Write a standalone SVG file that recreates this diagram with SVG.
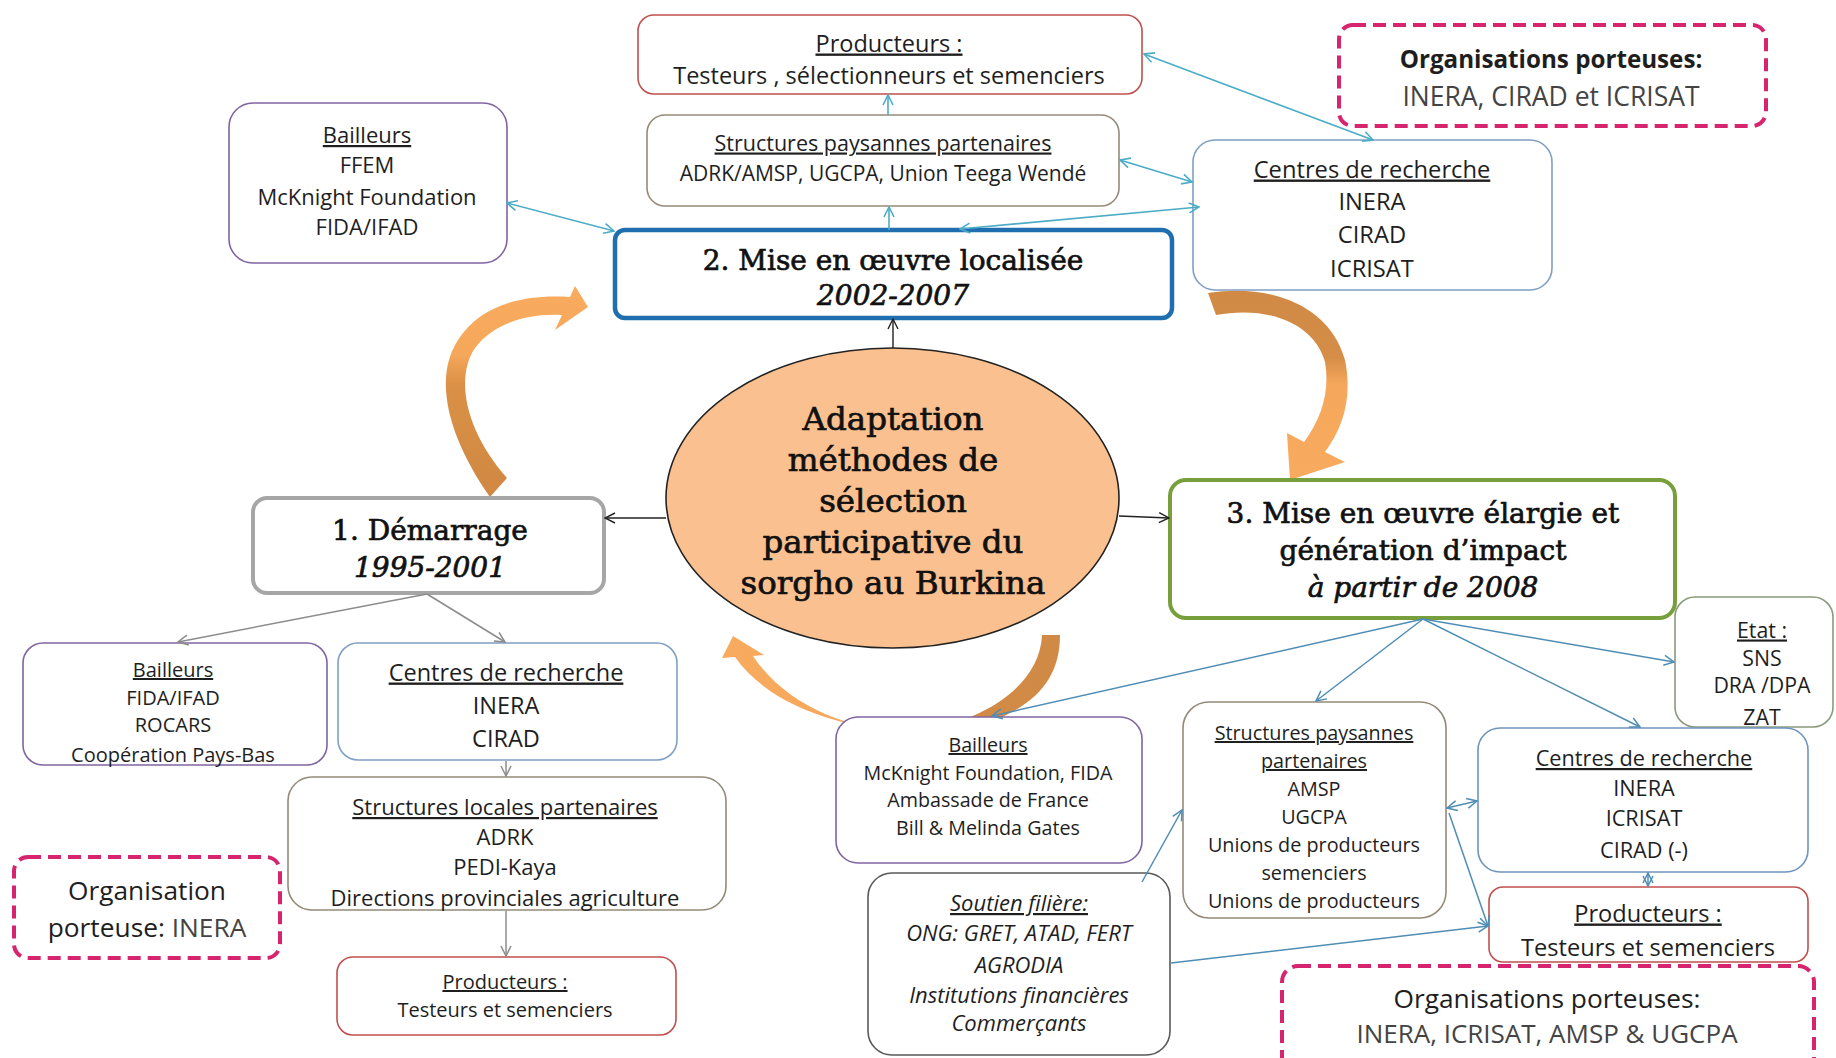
<svg xmlns="http://www.w3.org/2000/svg" width="1836" height="1058" viewBox="0 0 1836 1058">
<defs>
<style>
.box{fill:#fff;stroke-width:1.6}
.red{stroke:#c0504d}
.brn{stroke:#948a7a}
.pur{stroke:#8064a2}
.blu{stroke:#7f9fc4}
.dash{fill:#fff;stroke:#d6246e;stroke-width:4;stroke-dasharray:13 7}
.t{font-family:"Open Sans","Liberation Sans",sans-serif;fill:#1e1e1e;text-anchor:middle}
.s{font-family:"DejaVu Serif","Liberation Serif",serif;fill:#111;stroke:#111;stroke-width:0.7;text-anchor:middle}
.u{text-decoration:underline}
.i{font-style:italic}
.lt{fill:#444}
.c1{fill:none;stroke:#4bacc6;stroke-width:1.6}
.c2{fill:none;stroke:#4f8db5;stroke-width:1.5}
.c3{fill:none;stroke:#8c8c8c;stroke-width:1.5}
.c4{fill:none;stroke:#222;stroke-width:1.4}
</style>
<marker id="mb1" viewBox="0 0 12 12" refX="11" refY="6" markerWidth="12" markerHeight="12" markerUnits="userSpaceOnUse" orient="auto-start-reverse"><path d="M1,1 L11,6 L1,11" fill="none" stroke="#4bacc6" stroke-width="1.6"/></marker>
<marker id="mb2" viewBox="0 0 12 12" refX="11" refY="6" markerWidth="12" markerHeight="12" markerUnits="userSpaceOnUse" orient="auto-start-reverse"><path d="M1,1 L11,6 L1,11" fill="none" stroke="#4f8db5" stroke-width="1.5"/></marker>
<marker id="mg" viewBox="0 0 12 12" refX="11" refY="6" markerWidth="12" markerHeight="12" markerUnits="userSpaceOnUse" orient="auto-start-reverse"><path d="M1,1 L11,6 L1,11" fill="none" stroke="#8c8c8c" stroke-width="1.5"/></marker>
<marker id="mk" viewBox="0 0 12 12" refX="11" refY="6" markerWidth="12" markerHeight="12" markerUnits="userSpaceOnUse" orient="auto-start-reverse"><path d="M1,1 L11,6 L1,11" fill="none" stroke="#222" stroke-width="1.4"/></marker>
<linearGradient id="gl" gradientUnits="userSpaceOnUse" x1="0" y1="295" x2="0" y2="495"><stop offset="0" stop-color="#f8ab5e"/><stop offset="0.3" stop-color="#f5a75a"/><stop offset="0.45" stop-color="#da9046"/><stop offset="1" stop-color="#d08842"/></linearGradient>
<linearGradient id="gr" gradientUnits="userSpaceOnUse" x1="0" y1="292" x2="0" y2="478"><stop offset="0" stop-color="#d08a45"/><stop offset="0.35" stop-color="#d58d47"/><stop offset="0.5" stop-color="#f5a85b"/><stop offset="1" stop-color="#f8ab5e"/></linearGradient>
<linearGradient id="gb" gradientUnits="userSpaceOnUse" x1="1060" y1="0" x2="725" y2="0"><stop offset="0" stop-color="#d08a45"/><stop offset="0.42" stop-color="#d48c46"/><stop offset="0.6" stop-color="#f5a75b"/><stop offset="1" stop-color="#f8ab5e"/></linearGradient>
</defs>
<rect width="1836" height="1058" fill="#fff"/>

<g id="cycle-arrows">
<path d="M490,497 C450,440 432,380 458,340 C480,306 520,294 570,297 L575,286 L588,307 L555,330 L562,315 C525,313 492,325 475,348 C455,378 465,430 507,478 Z" fill="url(#gl)"/>
<path d="M1208,293 C1270,283 1330,305 1345,360 C1352,395 1345,425 1325,452 L1345,462 L1290,480 L1287,433 L1304,442 C1322,418 1330,390 1325,362 C1315,325 1270,305 1216,315 Z" fill="url(#gr)"/>
<path d="M1060,635 C1060,675 1040,700 1000,718 C940,745 790,735 735,657 L722,658 L733,636 L764,655 L753,656 C790,712 870,740 935,728 C985,718 1040,685 1042,635 Z" fill="url(#gb)"/>
</g>

<g id="n-prod-top"><rect class="box red" x="638" y="15" width="504" height="79" rx="16"/>
<text class="t u" x="889" y="51.5" font-size="23.5">Producteurs :</text>
<text class="t" x="889" y="83.5" font-size="23.5">Testeurs , sélectionneurs et semenciers</text></g>

<g id="n-struct-top"><rect class="box brn" x="647" y="115" width="472" height="91" rx="18"/>
<text class="t u" x="883" y="150.5" font-size="21.5">Structures paysannes partenaires</text>
<text class="t" x="883" y="180.5" font-size="21">ADRK/AMSP, UGCPA, Union Teega Wendé</text></g>

<g id="n-bailleurs-top"><rect class="box pur" x="229" y="103" width="278" height="160" rx="24"/>
<text class="t u" x="367" y="143" font-size="22">Bailleurs</text>
<text class="t" x="367" y="173" font-size="22">FFEM</text>
<text class="t" x="367" y="205" font-size="22">McKnight Foundation</text>
<text class="t" x="367" y="235" font-size="22">FIDA/IFAD</text></g>

<g id="n-phase2"><rect x="615" y="230" width="557" height="88" rx="10" fill="#fff" stroke="#1f6fb0" stroke-width="4.5"/>
<text class="s" x="893" y="270" font-size="28">2. Mise en œuvre localisée</text>
<text class="s i" x="893" y="305" font-size="28" stroke-width="0.3">2002-2007</text></g>

<g id="n-centres-top"><rect class="box blu" x="1193" y="140" width="359" height="150" rx="22"/>
<text class="t u" x="1372" y="177.5" font-size="23.7">Centres de recherche</text>
<text class="t" x="1372" y="209.5" font-size="23.7">INERA</text>
<text class="t" x="1372" y="242.5" font-size="23.7">CIRAD</text>
<text class="t" x="1372" y="276.5" font-size="23.7">ICRISAT</text></g>

<g id="n-org-top"><rect class="dash" x="1339" y="25" width="427" height="101" rx="14"/>
<text class="t" x="1551" y="67.5" font-size="24.2" font-weight="bold" fill="#111">Organisations porteuses:</text>
<text class="t lt" x="1551" y="105.5" font-size="26.5">INERA, CIRAD et ICRISAT</text></g>

<g id="n-center"><ellipse cx="892.5" cy="498" rx="226.5" ry="150" fill="#fac08f" stroke="#222" stroke-width="1.6"/>
<text class="s" x="893" y="430" font-size="32.5" stroke-width="0.9">Adaptation</text>
<text class="s" x="893" y="471" font-size="32.5" stroke-width="0.9">méthodes de</text>
<text class="s" x="893" y="512" font-size="32.5" stroke-width="0.9">sélection</text>
<text class="s" x="893" y="553" font-size="32.5" stroke-width="0.9">participative du</text>
<text class="s" x="893" y="594" font-size="32.5" stroke-width="0.9">sorgho au Burkina</text></g>

<g id="n-phase1"><rect x="253" y="498" width="351" height="95" rx="14" fill="#fff" stroke="#a6a6a6" stroke-width="4"/>
<text class="s" x="430" y="540" font-size="28">1. Démarrage</text>
<text class="s i" x="430" y="577" font-size="28" stroke-width="0.3">1995-2001</text></g>

<g id="n-phase3"><rect x="1170" y="480" width="505" height="138" rx="16" fill="#fff" stroke="#77a03c" stroke-width="4"/>
<text class="s" x="1423" y="523" font-size="28">3. Mise en œuvre élargie et</text>
<text class="s" x="1423" y="560" font-size="28">génération d’impact</text>
<text class="s i" x="1423" y="597" font-size="28" stroke-width="0.3">à partir de 2008</text></g>

<g id="n-bailleurs-left"><rect class="box pur" x="23" y="643" width="304" height="122" rx="20"/>
<text class="t u" x="173" y="677" font-size="20">Bailleurs</text>
<text class="t" x="173" y="705" font-size="20">FIDA/IFAD</text>
<text class="t" x="173" y="732" font-size="20">ROCARS</text>
<text class="t" x="173" y="762" font-size="20">Coopération Pays-Bas</text></g>

<g id="n-centres-left"><rect class="box blu" x="338" y="643" width="339" height="117" rx="20"/>
<text class="t u" x="506" y="680.5" font-size="23.5">Centres de recherche</text>
<text class="t" x="506" y="713.5" font-size="23.5">INERA</text>
<text class="t" x="506" y="746.5" font-size="23.5">CIRAD</text></g>

<g id="n-struct-locales"><rect class="box brn" x="288" y="777" width="438" height="133" rx="24"/>
<text class="t u" x="505" y="815" font-size="22">Structures locales partenaires</text>
<text class="t" x="505" y="845" font-size="22">ADRK</text>
<text class="t" x="505" y="875" font-size="22">PEDI-Kaya</text>
<text class="t" x="505" y="906" font-size="22">Directions provinciales agriculture</text></g>

<g id="n-org-left"><rect class="dash" x="14" y="857" width="266" height="101" rx="14"/>
<text class="t" x="147" y="899.5" font-size="26.3" fill="#111">Organisation</text>
<text class="t" x="147" y="936.5" font-size="26.3" fill="#111">porteuse: <tspan class="lt">INERA</tspan></text></g>

<g id="n-prod-left"><rect class="box red" x="337" y="957" width="339" height="78" rx="16"/>
<text class="t u" x="505" y="989" font-size="20">Producteurs :</text>
<text class="t" x="505" y="1017" font-size="20">Testeurs et semenciers</text></g>

<g id="n-bailleurs-mid"><rect class="box pur" x="836" y="717" width="306" height="146" rx="22"/>
<text class="t u" x="988" y="752" font-size="19.7">Bailleurs</text>
<text class="t" x="988" y="780" font-size="19.7">McKnight Foundation, FIDA</text>
<text class="t" x="988" y="807" font-size="19.7">Ambassade de France</text>
<text class="t" x="988" y="835" font-size="19.7">Bill &amp; Melinda Gates</text></g>

<g id="n-soutien"><rect class="box" stroke="#595959" x="868" y="873" width="302" height="182" rx="24"/>
<text class="t i u" x="1019" y="911" font-size="22">Soutien filière:</text>
<text class="t i" x="1019" y="941" font-size="22">ONG: GRET, ATAD, FERT</text>
<text class="t i" x="1019" y="973" font-size="22">AGRODIA</text>
<text class="t i" x="1019" y="1003" font-size="22">Institutions financières</text>
<text class="t i" x="1019" y="1031" font-size="22">Commerçants</text></g>

<g id="n-struct-bottom"><rect class="box brn" x="1183" y="702" width="263" height="216" rx="26"/>
<text class="t u" x="1314" y="740" font-size="19.8">Structures paysannes</text>
<text class="t u" x="1314" y="768" font-size="19.8">partenaires</text>
<text class="t" x="1314" y="796" font-size="19.8">AMSP</text>
<text class="t" x="1314" y="824" font-size="19.8">UGCPA</text>
<text class="t" x="1314" y="852" font-size="19.8">Unions de producteurs</text>
<text class="t" x="1314" y="880" font-size="19.8">semenciers</text>
<text class="t" x="1314" y="908" font-size="19.8">Unions de producteurs</text></g>

<g id="n-etat"><rect class="box" stroke="#8a9a7a" x="1675" y="597" width="158" height="130" rx="20"/>
<text class="t u" x="1762" y="637.5" font-size="21.3">Etat :</text>
<text class="t" x="1762" y="665.5" font-size="21.3">SNS</text>
<text class="t" x="1762" y="692.5" font-size="21.3">DRA /DPA</text>
<text class="t" x="1762" y="724.5" font-size="21.3">ZAT</text></g>

<g id="n-org-bottom"><rect class="dash" x="1282" y="966" width="532" height="115" rx="16"/>
<text class="t" x="1547" y="1007.5" font-size="26.3" fill="#111">Organisations porteuses:</text>
<text class="t lt" x="1547" y="1042.5" font-size="26">INERA, ICRISAT, AMSP &amp; UGCPA</text></g>

<g id="n-centres-bottom"><rect class="box" stroke="#6f94bd" x="1478" y="728" width="330" height="144" rx="22"/>
<text class="t u" x="1644" y="766" font-size="21.7">Centres de recherche</text>
<text class="t" x="1644" y="796" font-size="21.7">INERA</text>
<text class="t" x="1644" y="826" font-size="21.7">ICRISAT</text>
<text class="t" x="1644" y="858" font-size="21.7">CIRAD (-)</text></g>

<g id="n-prod-bottom"><rect class="box red" x="1489" y="887" width="319" height="75" rx="14"/>
<text class="t u" x="1648" y="921.5" font-size="23.6">Producteurs :</text>
<text class="t" x="1648" y="955.5" font-size="23.6">Testeurs et semenciers</text></g>

<g id="connectors">
<line class="c1" x1="507" y1="203" x2="614" y2="231" marker-start="url(#mb1)" marker-end="url(#mb1)"/>
<line class="c1" x1="888" y1="115" x2="888" y2="95" marker-end="url(#mb1)"/>
<line class="c1" x1="889" y1="230" x2="889" y2="207" marker-end="url(#mb1)"/>
<line class="c1" x1="1120" y1="160" x2="1192" y2="182" marker-start="url(#mb1)" marker-end="url(#mb1)"/>
<line class="c1" x1="1199" y1="207" x2="960" y2="229" marker-start="url(#mb1)" marker-end="url(#mb1)"/>
<line class="c1" x1="1373" y1="140" x2="1144" y2="54" marker-start="url(#mb1)" marker-end="url(#mb1)"/>
<line class="c4" x1="893" y1="348" x2="893" y2="319" marker-end="url(#mk)"/>
<line class="c4" x1="666" y1="518" x2="605" y2="518" marker-end="url(#mk)"/>
<line class="c4" x1="1119" y1="516" x2="1169" y2="518" marker-end="url(#mk)"/>
<line class="c3" x1="427" y1="594" x2="178" y2="642" marker-end="url(#mg)"/>
<line class="c3" x1="427" y1="594" x2="505" y2="642" marker-end="url(#mg)"/>
<line class="c3" x1="506" y1="761" x2="506" y2="776" marker-end="url(#mg)"/>
<line class="c3" x1="506" y1="911" x2="506" y2="956" marker-end="url(#mg)"/>
<line class="c2" x1="1423" y1="619" x2="992" y2="716" marker-end="url(#mb2)"/>
<line class="c2" x1="1423" y1="619" x2="1316" y2="701" marker-end="url(#mb2)"/>
<line class="c2" x1="1423" y1="619" x2="1640" y2="727" marker-end="url(#mb2)"/>
<line class="c2" x1="1423" y1="619" x2="1674" y2="662" marker-end="url(#mb2)"/>
<line class="c2" x1="1142" y1="882" x2="1182" y2="810" marker-end="url(#mb2)"/>
<line class="c2" x1="1171" y1="963" x2="1488" y2="926" marker-end="url(#mb2)"/>
<line class="c2" x1="1447" y1="808" x2="1477" y2="801" marker-start="url(#mb2)" marker-end="url(#mb2)"/>
<line class="c2" x1="1449" y1="813" x2="1488" y2="926" marker-end="url(#mb2)"/>
<line class="c2" x1="1648" y1="873" x2="1648" y2="886" marker-start="url(#mb2)" marker-end="url(#mb2)"/>
</g>
</svg>
